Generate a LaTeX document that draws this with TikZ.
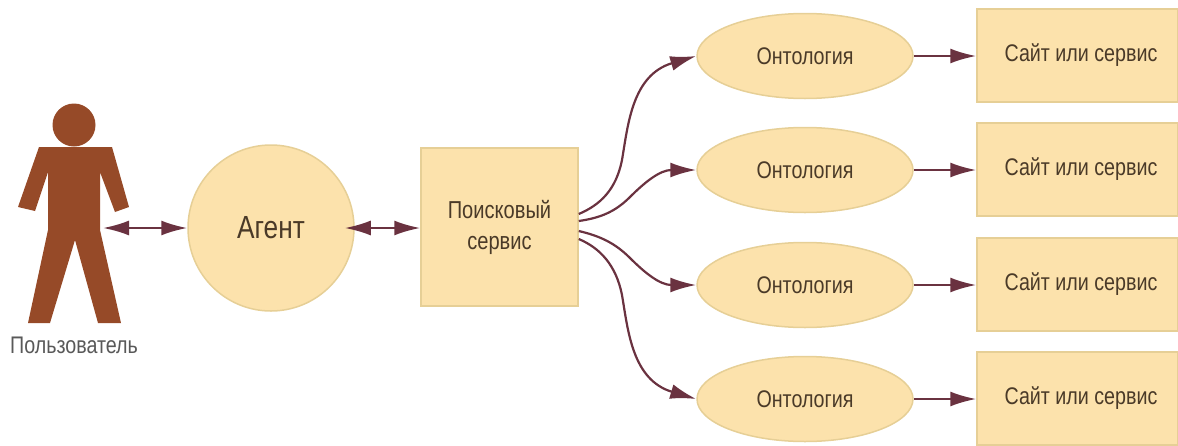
\documentclass[tikz,border=0pt]{standalone}
\usepackage{fontspec}
\setmainfont[FakeStretch=0.82]{Liberation Sans}
\usetikzlibrary{arrows.meta,shapes.geometric}
\definecolor{boxfill}{HTML}{FCE2AC}
\definecolor{boxline}{HTML}{E6CF96}
\definecolor{arrowc}{HTML}{6A3240}
\definecolor{personc}{HTML}{964A28}
\definecolor{textc}{HTML}{4A3A28}
\newcommand{\sitetext}{\hspace*{7pt}\raisebox{-1.5pt}{Сайт или сервис}}
\tikzset{
  shapebase/.style={fill=boxfill,draw=boxline,line width=1.5pt,inner sep=0pt,text=textc,align=center},
  sitebox/.style={shapebase,rectangle,minimum width=201pt,minimum height=93pt,font=\fontsize{24}{28}\selectfont},
  ontology/.style={shapebase,ellipse,minimum width=216pt,minimum height=85pt,font=\fontsize{24}{28}\selectfont},
  conn/.style={draw=arrowc,line width=2.2pt,-{Latex[length=26pt,width=15pt]}},
  biconn/.style={draw=arrowc,line width=2.2pt,{Latex[length=26pt,width=15pt]}-{Latex[length=26pt,width=15pt]}},
}
\begin{document}
\begin{tikzpicture}[x=1pt,y=-1pt]
\useasboundingbox (0,0) rectangle (1178,445);
% person
\fill[personc] (39,147) -- (112,147) -- (129,207) -- (115,212) -- (100,172) -- (100,230) -- (121,323) -- (98,323) -- (75,240) -- (50,323) -- (28,323) -- (48,230) -- (48,172) -- (35,211) -- (18,207) -- cycle;
\fill[personc] (74,125) circle (21.5);
\coordinate (user) at (103,228);
\node[text=black!65,font=\fontsize{24}{28}\selectfont] (userlabel) at (74,345) {Пользователь};
% main nodes
\node[shapebase,circle,minimum size=166pt,font=\fontsize{32}{36}\selectfont] (agent) at (271,228) {Агент};
\node[shapebase,rectangle,minimum width=157pt,minimum height=158pt,font=\fontsize{24.5}{31}\selectfont] (search) at (499.5,227) {Поисковый\\сервис};
\node[ontology] (o1) at (805,56) {Онтология};
\node[ontology] (o2) at (805,170) {Онтология};
\node[ontology] (o3) at (805,285) {Онтология};
\node[ontology] (o4) at (805,399) {Онтология};
\node[sitebox] (s1) at (1077.5,55.5) {\sitetext};
\node[sitebox] (s2) at (1077.5,169.5) {\sitetext};
\node[sitebox] (s3) at (1077.5,284.5) {\sitetext};
\node[sitebox] (s4) at (1077.5,398.5) {\sitetext};
% connectors
\draw[biconn] (user) -- (agent.west |- user);
\draw[biconn] ([xshift=-10pt]agent.east) -- (search.west |- agent.east);
\foreach \i in {1,2,3,4} \draw[conn] (o\i.east) -- (s\i.west |- o\i.east);
\draw[conn] (search.east) ++(0,-13) .. controls (600,205) and (616,190) .. (622,160) .. controls (628,125) and (632,75) .. (o1.west);
\draw[conn] (search.east) ++(0,-6) .. controls (600,218) and (615,212) .. (630,197) .. controls (645,182) and (660,170) .. (o2.west);
\draw[conn] (search.east) ++(0,4) .. controls (600,236) and (615,243) .. (630,258) .. controls (645,273) and (660,285) .. (o3.west);
\draw[conn] (search.east) ++(0,12) .. controls (600,248) and (616,265) .. (622,295) .. controls (628,330) and (632,380) .. (o4.west);
\end{tikzpicture}
\end{document}
